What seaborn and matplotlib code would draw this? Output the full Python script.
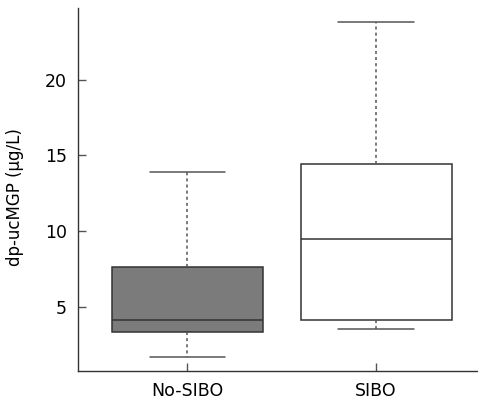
import pandas as pd
import matplotlib.pyplot as plt
import seaborn as sns

# five-number summaries (min, Q1, median, Q3, max)
groups = ['No-SIBO', 'SIBO']
no_sibo = [1.67, 3.31, 4.1, 7.6, 13.9]
sibo = [3.55, 4.1, 9.5, 14.45, 23.8]
fills = {'No-SIBO': '#7b7b7b', 'SIBO': 'white'}

df = pd.DataFrame({
    'group': ['No-SIBO'] * len(no_sibo) + ['SIBO'] * len(sibo),
    'value': no_sibo + sibo,
})

sns.set_style('white')
plt.rcParams['font.family'] = ['DejaVu Sans']

fig = plt.figure(figsize=(4.78, 4.08), dpi=100)
ax = fig.add_axes([78 / 478, 1 - 370.7 / 408, 400 / 478, 362.4 / 408])

sns.boxplot(
    data=df, x='group', y='value', hue='group', order=groups,
    palette=fills, legend=False, width=0.8, whis=(0, 100),
    linecolor='#333333', linewidth=1.1, ax=ax,
    whiskerprops=dict(linestyle=(0, (2, 2)), color='#555555'),
    capprops=dict(color='#555555'),
    medianprops=dict(color='#333333'),
)

ax.set_xlim(-0.58, 1.54)
ax.set_ylim(0.77, 24.73)
ax.set_yticks([5, 10, 15, 20])
ax.set_xlabel('')
ax.set_ylabel('dp-ucMGP (μg/L)', fontsize=12, color='black')
ax.yaxis.set_label_coords(-0.135, 0.48)
sns.despine(ax=ax)
for s in ['left', 'bottom']:
    ax.spines[s].set_color('#333333')
    ax.spines[s].set_linewidth(1.0)
ax.tick_params(direction='in', length=6, width=1, color='#555555',
               labelsize=12.5, labelcolor='black', pad=8,
               left=True, bottom=True)

fig.savefig('out.png', dpi=100)
